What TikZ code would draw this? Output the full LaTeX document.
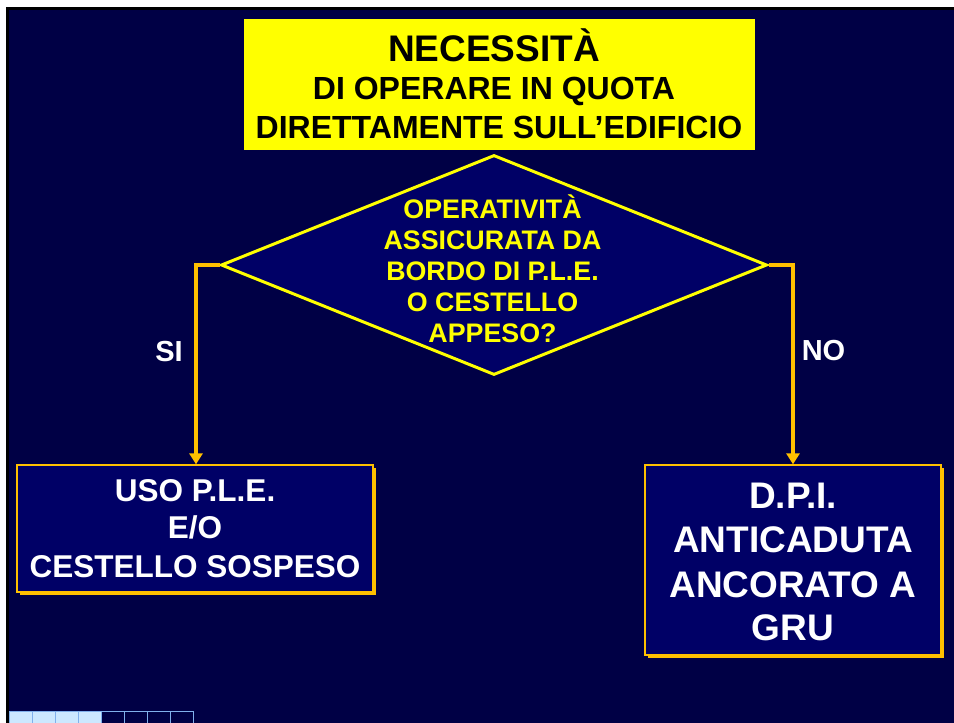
\documentclass[tikz,border=0pt]{standalone}
\usepackage{fontspec}
\setmainfont{Liberation Sans}
\usetikzlibrary{shapes.geometric,arrows.meta,shadows}
\definecolor{bgnavy}{HTML}{000045}
\definecolor{boxnavy}{HTML}{000066}
\definecolor{gold}{HTML}{FFC000}
\definecolor{titleyellow}{HTML}{FFFF00}
\definecolor{lightbox}{HTML}{CCE8FF}
\definecolor{lightedge}{HTML}{80B0EC}
\begin{document}
\begin{tikzpicture}[x=1pt,y=-1pt,
  titlebox/.style={fill=titleyellow, inner sep=0pt, minimum width=511pt, minimum height=131pt},
  decision/.style={diamond, draw=titleyellow, line width=3pt, fill=boxnavy, inner sep=0pt, minimum width=546pt, minimum height=220pt},
  resultbox/.style={rectangle, draw=gold, line width=1.3pt, fill=boxnavy, inner sep=0pt,
    drop shadow={fill=gold, opacity=1, shadow xshift=3pt, shadow yshift=-3pt}},
  conn/.style={draw=gold, line width=4.5pt, -{Triangle[width=13pt,length=11pt]}},
  titletxt/.style={anchor=base, text=black, inner sep=0pt},
  dectxt/.style={anchor=base, text=titleyellow, inner sep=0pt, font=\fontsize{26.8}{31}\selectfont\bfseries},
  boxtxt/.style={anchor=base, text=white, inner sep=0pt},
  lbl/.style={anchor=base, text=white, inner sep=0pt, font=\fontsize{29}{32}\selectfont\bfseries}]
\useasboundingbox (0,0) rectangle (954,723);
% frame
\fill[white] (0,0) rectangle (954,723);
\fill[black] (6,7) rectangle (954,723);
\fill[bgnavy] (9,9.5) rectangle (954,723);
% title
\node[titlebox] (title) at (499.5,84.5) {};
\node[titletxt, font=\fontsize{37}{40}\selectfont\bfseries] (t1) at (494,61) {NECESSITÀ};
\node[titletxt, font=\fontsize{32}{36}\selectfont\bfseries] (t2) at (494,99.5) {DI OPERARE IN QUOTA};
\node[titletxt, font=\fontsize{32}{36}\selectfont\bfseries] (t3) at (499,138.5) {DIRETTAMENTE SULL’EDIFICIO};
% decision
\node[decision] (dec) at (494,265) {};
\node[dectxt] (d1) at (492.5,218) {OPERATIVITÀ};
\node[dectxt] (d2) at (492.5,249) {ASSICURATA DA};
\node[dectxt] (d3) at (492.5,280) {BORDO DI P.L.E.};
\node[dectxt] (d4) at (492.5,311) {O CESTELLO};
\node[dectxt] (d5) at (492.5,342) {APPESO?};
% result boxes
\node[resultbox, minimum width=356pt, minimum height=127pt] (left) at (195,528.5) {};
\node[boxtxt, font=\fontsize{31.5}{38}\selectfont\bfseries] (l1) at (195,501) {USO P.L.E.};
\node[boxtxt, font=\fontsize{31.5}{38}\selectfont\bfseries] (l2) at (195,538.5) {E/O};
\node[boxtxt, font=\fontsize{31.5}{38}\selectfont\bfseries] (l3) at (195,577) {CESTELLO SOSPESO};
\node[resultbox, minimum width=296pt, minimum height=190pt] (right) at (793,560) {};
\node[boxtxt, font=\fontsize{37}{44}\selectfont\bfseries] (r1) at (793,508) {D.P.I.};
\node[boxtxt, font=\fontsize{37}{44}\selectfont\bfseries] (r2) at (793,552) {ANTICADUTA};
\node[boxtxt, font=\fontsize{37}{44}\selectfont\bfseries] (r3) at (793,597) {ANCORATO A};
\node[boxtxt, font=\fontsize{37}{44}\selectfont\bfseries] (r4) at (793,640) {GRU};
% connectors
\draw[conn] (dec.west) -| ([xshift=1pt]left.north);
\draw[conn] (dec.east) -| (right.north);
\node[lbl] (si) at (169,361) {SI};
\node[lbl] (no) at (823.5,360) {NO};
% bottom strip
\foreach \i in {0,...,3}
  \draw[lightedge, fill=lightbox, line width=1pt] ({9.5+23*\i},711) rectangle ({9.5+23*(\i+1)},723.5);
\foreach \i in {4,...,7}
  \draw[lightedge, fill=bgnavy, line width=1pt] ({9.5+23*\i},711) rectangle ({9.5+23*(\i+1)},723.5);
\end{tikzpicture}
\end{document}
